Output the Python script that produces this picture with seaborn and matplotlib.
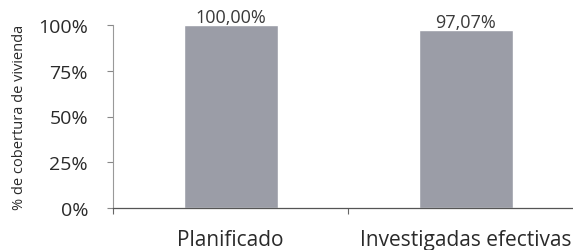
import pandas as pd
import matplotlib
matplotlib.use('Agg')
import matplotlib.pyplot as plt
import seaborn as sns

# Data
categorias = ['Planificado', 'Investigadas efectivas']
cobertura = [1.0, 0.9707]
etiquetas = ['100,00%', '97,07%']
yticks = [0, 0.25, 0.5, 0.75, 1.0]
ytick_labels = ['0%', '25%', '50%', '75%', '100%']

df = pd.DataFrame({'categoria': categorias, 'cobertura': cobertura})

sns.set_theme(style='white')
plt.rcParams['font.family'] = ['Open Sans', 'DejaVu Sans']

fig = plt.figure(figsize=(5.73, 2.51), dpi=100)
W, H = 573, 251
ax = fig.add_axes([113 / W, 1 - 209 / H, (583.5 - 113) / W, (209 - 26) / H])

sns.barplot(data=df, x='categoria', y='cobertura', color='#9b9da7',
            width=0.4, saturation=1, ax=ax)

for i, (v, lab) in enumerate(zip(cobertura, etiquetas)):
    ax.text(i, v - 0.005, lab, ha='center', va='bottom', fontsize=13, color='#3a3a3a')

ax.set_xlim(-0.5, 1.5)
ax.set_ylim(0, 1.0)
ax.set_yticks(yticks)
ax.set_yticklabels(ytick_labels, fontsize=14, color='#2a2a2a')
ax.set_xticks([0, 1])
ax.set_xticklabels(categorias, fontsize=15, color='#2a2a2a')
ax.set_xticks([-0.5, 0.5, 1.5], minor=True)
ax.tick_params(axis='x', which='major', length=0, pad=15)
ax.tick_params(axis='x', which='minor', length=4, width=0.8, color='#666666', bottom=True)
ax.tick_params(axis='y', length=4, width=0.8, color='#888888', pad=14, left=True)

ax.set_xlabel('')
ax.set_ylabel('% de cobertura de vivienda', fontsize=10.5, color='#2a2a2a', labelpad=8)

for s in ['top', 'right']:
    ax.spines[s].set_visible(False)
ax.spines['left'].set_color('#999999')
ax.spines['left'].set_linewidth(0.8)
ax.spines['bottom'].set_color('#555555')
ax.spines['bottom'].set_linewidth(0.9)

fig.savefig('out.png', dpi=100)
